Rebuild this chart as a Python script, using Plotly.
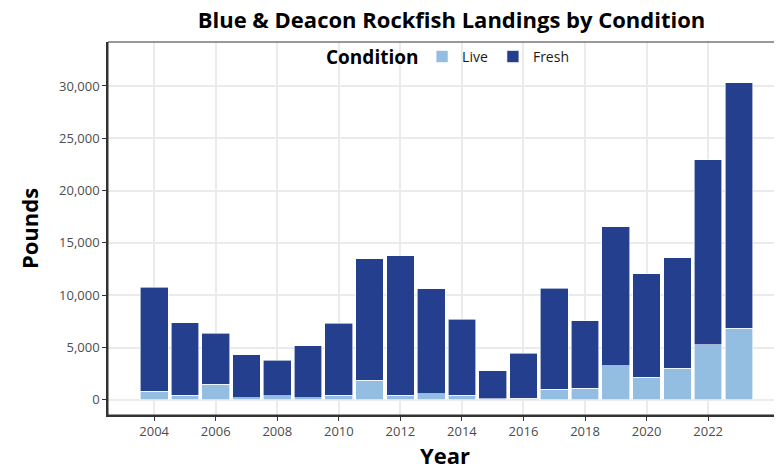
import plotly.graph_objects as go

years = list(range(2004, 2024))
live = [800, 420, 1500, 190, 380, 190, 420, 1880, 450, 600,
        450, 80, 150, 1020, 1110, 3250, 2170, 3000, 5250, 6850]
total = [10760, 7350, 6370, 4300, 3760, 5160, 7320, 13470, 13760, 10600,
         7700, 2770, 4460, 10650, 7560, 16530, 12040, 13570, 22930, 30300]
fresh = [t - l for t, l in zip(total, live)]

font_family = "Open Sans, Noto Sans, sans-serif"

fig = go.Figure()
fig.add_trace(go.Bar(
    x=years, y=live, name="Live",
    marker=dict(color="#93BDE1", line=dict(color="white", width=0.6)),
    width=0.9
))
fig.add_trace(go.Bar(
    x=years, y=fresh, name="Fresh",
    marker=dict(color="#243F8E", line=dict(color="white", width=0.6)),
    width=0.9
))

# page body has an 8px margin, so the figure is sized/offset to compensate
fig.update_layout(
    barmode="stack",
    width=774, height=466,
    margin=dict(l=100, r=0, t=34, b=59),
    plot_bgcolor="white",
    paper_bgcolor="white",
    font=dict(family=font_family, color="#4D4D4D", size=13),
    title=dict(text="<b>Blue & Deacon Rockfish Landings by Condition</b>",
               x=0.573, xanchor="center", y=0.974, yanchor="middle",
               font=dict(size=22, color="black")),
    legend=dict(orientation="h", x=0.466, xanchor="left", y=0.96, yanchor="middle",
                bgcolor="rgba(0,0,0,0)",
                font=dict(size=14, color="#1A1A1A"), traceorder="normal"),
)

# legend title drawn separately so it lines up with the items
fig.add_annotation(text="<b>Condition</b>", xref="paper", yref="paper",
                   x=0.463, xanchor="right", y=0.96, yanchor="middle",
                   showarrow=False, font=dict(size=19, color="black"))

fig.update_xaxes(
    range=[2002.5, 2024.4],
    tickmode="array", tickvals=list(range(2004, 2023, 2)),
    showgrid=True, gridcolor="#EBEBEB", gridwidth=1.5,
    showline=True, linecolor="#333333", linewidth=1.5,
    ticks="outside", ticklen=4, tickcolor="#333333",
    title=dict(text="<b>Year</b>", font=dict(size=22, color="black"), standoff=6),
    zeroline=False, automargin=False,
)
fig.update_yaxes(
    range=[-1450, 34200],
    tickmode="array", tickvals=[0, 5000, 10000, 15000, 20000, 25000, 30000],
    tickformat=",",
    showgrid=True, gridcolor="#EBEBEB", gridwidth=1.5,
    showline=True, linecolor="#333333", linewidth=1.5,
    ticks="outside", ticklen=4, tickcolor="#333333",
    title=dict(text="<b>Pounds</b>", font=dict(size=22, color="black"), standoff=14),
    zeroline=False, automargin=False,
)

# panel border top and right
fig.add_shape(type="rect", xref="paper", yref="paper", x0=0, x1=1, y0=0, y1=1,
              line=dict(color="#333333", width=1), layer="above")

fig.write_html("out.html")
